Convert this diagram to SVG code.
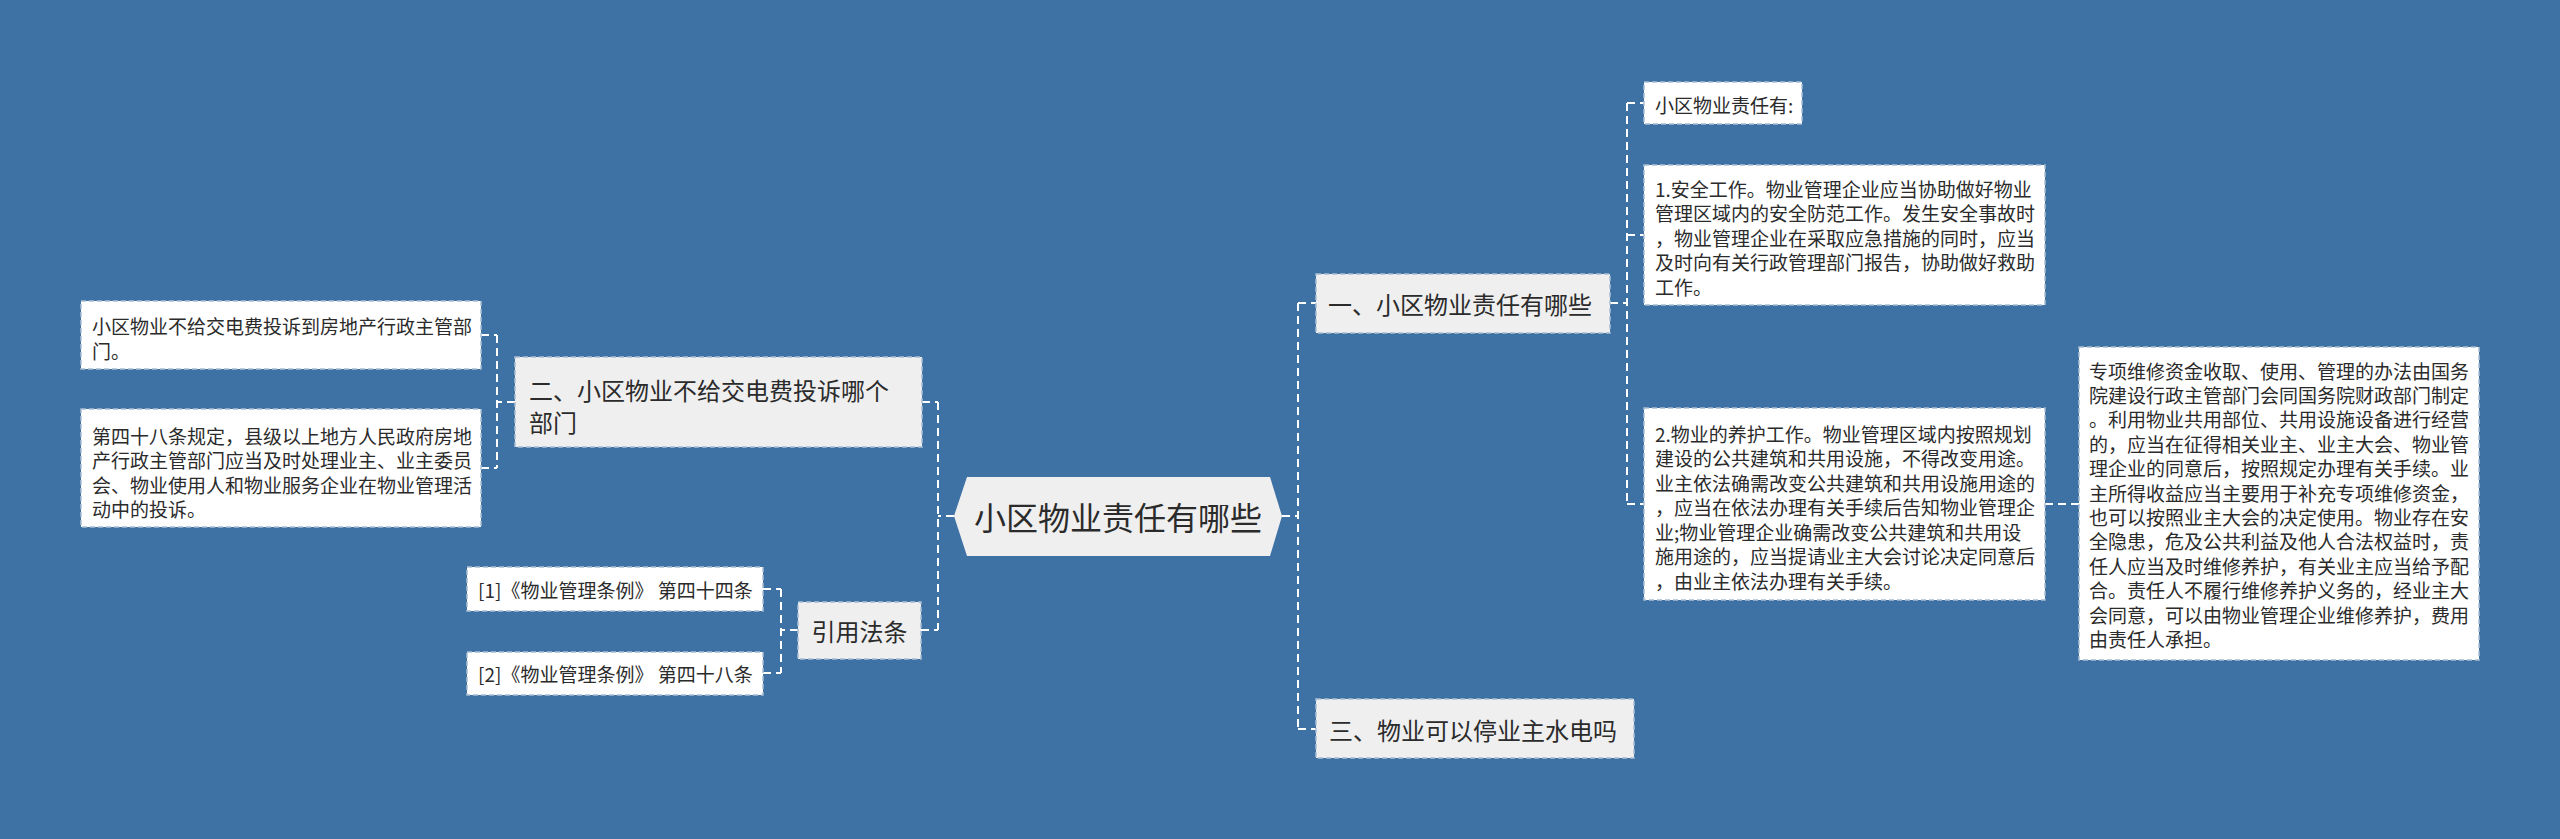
<svg xmlns="http://www.w3.org/2000/svg" width="2560" height="839" viewBox="0 0 2560 839">
<style>
.bg{fill:#3e72a5}
.leaf{fill:#ffffff;stroke:#a9bed4;stroke-width:1.5;stroke-dasharray:5 3}
.l1{fill:#efefef;stroke:#a9bed4;stroke-width:1.5;stroke-dasharray:5 3}
.root{fill:#efefef}
.t{font-family:"Noto Sans CJK SC","Noto Sans",sans-serif;fill:#2b2b2b;dominant-baseline:central}
.s{font-size:19px}
.m{font-size:24px}
.b{font-size:32px}
.c{fill:none;stroke:#ffffff;stroke-width:2;stroke-dasharray:8 5}
</style>
<rect class="bg" x="0" y="0" width="2560" height="839"/>
<g id="connectors">
<path class="c" d="M954,516 H938 M938,402 V630 M922,402 H938 M921,630 H938"/>
<path class="c" d="M515,402 H497 M497,335 V468 M481,335 H497 M481,468 H497"/>
<path class="c" d="M798,630 H781 M781,589 V673 M763,589 H781 M763,673 H781"/>
<path class="c" d="M1282,516 H1298 M1298,303 V729 M1298,303 H1316 M1298,729 H1316"/>
<path class="c" d="M1610,303 H1627 M1627,103 V504 M1627,103 H1644 M1627,235 H1644 M1627,504 H1644"/>
<path class="c" d="M2045,504 H2079"/>
</g>
<g id="root">
<polygon class="root" points="954,516 967,477 1270,477 1282,516 1270,556 967,556"/>
<text class="t b" x="1118" y="516" text-anchor="middle">小区物业责任有哪些</text>
</g>
<g id="n1">
<rect class="l1" x="1316" y="274" width="294" height="59"/>
<text class="t m" x="1328" y="303">一、小区物业责任有哪些</text>
</g>
<g id="n1a">
<rect class="leaf" x="1644" y="82" width="158" height="42"/>
<text class="t s" x="1655" y="104">小区物业责任有:</text>
</g>
<g id="n1b">
<rect class="leaf" x="1644" y="165" width="401" height="140"/>
<text class="t s" x="1655" y="188">1.安全工作。物业管理企业应当协助做好物业</text>
<text class="t s" x="1655" y="212.5">管理区域内的安全防范工作。发生安全事故时</text>
<text class="t s" x="1655" y="237">，物业管理企业在采取应急措施的同时，应当</text>
<text class="t s" x="1655" y="261.5">及时向有关行政管理部门报告，协助做好救助</text>
<text class="t s" x="1655" y="286">工作。</text>
</g>
<g id="n1c">
<rect class="leaf" x="1644" y="408" width="401" height="192"/>
<text class="t s" x="1655" y="433">2.物业的养护工作。物业管理区域内按照规划</text>
<text class="t s" x="1655" y="457.5">建设的公共建筑和共用设施，不得改变用途。</text>
<text class="t s" x="1655" y="482">业主依法确需改变公共建筑和共用设施用途的</text>
<text class="t s" x="1655" y="506.5">，应当在依法办理有关手续后告知物业管理企</text>
<text class="t s" x="1655" y="531">业;物业管理企业确需改变公共建筑和共用设</text>
<text class="t s" x="1655" y="555.5">施用途的，应当提请业主大会讨论决定同意后</text>
<text class="t s" x="1655" y="580">，由业主依法办理有关手续。</text>
</g>
<g id="n1c1">
<rect class="leaf" x="2079" y="347" width="400" height="313"/>
<text class="t s" x="2089" y="370">专项维修资金收取、使用、管理的办法由国务</text>
<text class="t s" x="2089" y="394.4">院建设行政主管部门会同国务院财政部门制定</text>
<text class="t s" x="2089" y="418.8">。利用物业共用部位、共用设施设备进行经营</text>
<text class="t s" x="2089" y="443.2">的，应当在征得相关业主、业主大会、物业管</text>
<text class="t s" x="2089" y="467.6">理企业的同意后，按照规定办理有关手续。业</text>
<text class="t s" x="2089" y="492">主所得收益应当主要用于补充专项维修资金，</text>
<text class="t s" x="2089" y="516.4">也可以按照业主大会的决定使用。物业存在安</text>
<text class="t s" x="2089" y="540.8">全隐患，危及公共利益及他人合法权益时，责</text>
<text class="t s" x="2089" y="565.2">任人应当及时维修养护，有关业主应当给予配</text>
<text class="t s" x="2089" y="589.6">合。责任人不履行维修养护义务的，经业主大</text>
<text class="t s" x="2089" y="614">会同意，可以由物业管理企业维修养护，费用</text>
<text class="t s" x="2089" y="638.4">由责任人承担。</text>
</g>
<g id="n3">
<rect class="l1" x="1316" y="699" width="318" height="59"/>
<text class="t m" x="1329" y="729">三、物业可以停业主水电吗</text>
</g>
<g id="n2">
<rect class="l1" x="515" y="357" width="407" height="90"/>
<text class="t m" x="529" y="389">二、小区物业不给交电费投诉哪个</text>
<text class="t m" x="529" y="421">部门</text>
</g>
<g id="n2a">
<rect class="leaf" x="81" y="301" width="400" height="68"/>
<text class="t s" x="92" y="325">小区物业不给交电费投诉到房地产行政主管部</text>
<text class="t s" x="92" y="350">门。</text>
</g>
<g id="n2b">
<rect class="leaf" x="81" y="409" width="400" height="118"/>
<text class="t s" x="92" y="435">第四十八条规定，县级以上地方人民政府房地</text>
<text class="t s" x="92" y="459.5">产行政主管部门应当及时处理业主、业主委员</text>
<text class="t s" x="92" y="484">会、物业使用人和物业服务企业在物业管理活</text>
<text class="t s" x="92" y="508.5">动中的投诉。</text>
</g>
<g id="n4">
<rect class="l1" x="798" y="602" width="123" height="57"/>
<text class="t m" x="859.5" y="630" text-anchor="middle">引用法条</text>
</g>
<g id="n4a">
<rect class="leaf" x="467" y="567" width="296" height="44"/>
<text class="t s" x="478" y="589">[1]《物业管理条例》 第四十四条</text>
</g>
<g id="n4b">
<rect class="leaf" x="467" y="652" width="296" height="43"/>
<text class="t s" x="478" y="673">[2]《物业管理条例》 第四十八条</text>
</g>
</svg>
